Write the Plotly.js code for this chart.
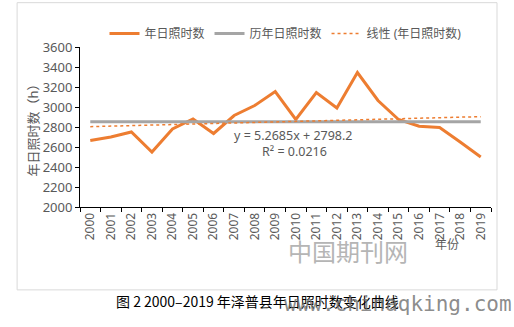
<!DOCTYPE html>
<html>
<head>
<meta charset="utf-8">
<script src="https://cdn.plot.ly/plotly-3.0.1.min.js"></script>
<style>
html,body{margin:0;padding:0;background:#fff;}
#chart{width:514px;height:327px;}
</style>
</head>
<body>
<div id="chart"></div>
<script>
// Data
const years = ['2000','2001','2002','2003','2004','2005','2006','2007','2008','2009',
               '2010','2011','2012','2013','2014','2015','2016','2017','2018','2019'];
const sunshineHours = [2665, 2700, 2750, 2550, 2780, 2880, 2735, 2915, 3015, 3155,
                       2875, 3145, 2990, 3345, 3065, 2875, 2808, 2795, 2650, 2500];
const historicalMean = [2853.5]; // 历年日照时数 (multi-year average)
const trendSlope = 5.2685;       // from the displayed equation
const trendIntercept = 2798.2;
const yTickVals = [2000, 2200, 2400, 2600, 2800, 3000, 3200, 3400, 3600];

const FONT = 'Noto Sans, Noto Sans CJK SC, sans-serif';
const TXT = '#595959';

const meanLine = years.map(() => historicalMean[0]);
const trendLine = years.map((_, i) => trendSlope * (i + 1) + trendIntercept);

const traces = [
  {x: years, y: sunshineHours, type: 'scatter', mode: 'lines', name: '年日照时数',
   line: {color: '#ED7D31', width: 3}},
  {x: years, y: meanLine, type: 'scatter', mode: 'lines', name: '历年日照时数',
   line: {color: '#A5A5A5', width: 3}},
  {x: years, y: trendLine, type: 'scatter', mode: 'lines', name: '线性 (年日照时数)',
   line: {color: '#ED7D31', width: 1.5, dash: 'dot'}}
];

const layout = {
  width: 514, height: 327,
  margin: {l: 80, r: 23, t: 46.7, b: 120.3},
  paper_bgcolor: '#fff', plot_bgcolor: '#fff',
  font: {family: FONT, color: TXT, size: 12},
  showlegend: true,
  legend: {orientation: 'h', x: 0.5, xanchor: 'center', y: 1.085, yanchor: 'middle',
           font: {family: FONT, size: 12, color: TXT}, bgcolor: 'rgba(0,0,0,0)',
           itemwidth: 30, tracegroupgap: 0},
  xaxis: {type: 'category', range: [-0.5, 19.5], showline: true, linecolor: '#000', linewidth: 1,
          ticks: 'outside', ticklen: 4, tickcolor: '#000', tickson: 'boundaries',
          tickangle: -90, tickfont: {family: FONT, size: 12, color: TXT},
          showgrid: false, zeroline: false, fixedrange: true},
  yaxis: {range: [2000, 3600], tickvals: yTickVals, showline: true, linecolor: '#000', linewidth: 1,
          ticks: 'outside', ticklen: 4, tickcolor: '#000',
          tickfont: {family: FONT, size: 13, color: TXT},
          showgrid: false, zeroline: false, fixedrange: true,
          title: {text: '年日照时数（h）', font: {family: FONT, size: 13, color: TXT}, standoff: 1}},
  shapes: [
    {type: 'rect', xref: 'paper', yref: 'paper', x0: -0.153, x1: 1.0146, y0: -0.518, y1: 1.277,
     line: {color: '#D9D9D9', width: 1}, fillcolor: 'rgba(0,0,0,0)', layer: 'below'}
  ],
  annotations: [
    {xref: 'paper', yref: 'paper', x: (293-80)/411, y: (206.7-135)/160, text: 'y = 5.2685x + 2798.2',
     showarrow: false, font: {family: FONT, size: 12.5, color: TXT}},
    {xref: 'paper', yref: 'paper', x: (294-80)/411, y: (206.7-151)/160, text: 'R² = 0.0216',
     showarrow: false, font: {family: FONT, size: 12.5, color: TXT}},
    {xref: 'paper', yref: 'paper', x: (461-80)/411, y: (206.7-255)/160, text: '年份',
     showarrow: false, font: {family: FONT, size: 12, color: TXT}},
    {xref: 'paper', yref: 'paper', x: (348-80)/411, y: (206.7-270)/160, text: '中国期刊网',
     showarrow: false, font: {family: 'Noto Sans CJK SC, serif', size: 24, color: '#B5B5B5'}},
    {xref: 'paper', yref: 'paper', x: (257-80)/411, y: (206.7-313)/160, text: '图 2 2000–2019 年泽普县年日照时数变化曲线',
     showarrow: false, font: {family: 'Noto Sans CJK SC, sans-serif', size: 14, color: '#000'}},
    {xref: 'paper', yref: 'paper', x: (514-80)/411, xanchor: 'right', y: (206.7-318)/160,
     text: 'www.chinaqking.com', showarrow: false,
     font: {family: 'DejaVu Sans Mono, monospace', size: 21, color: 'rgba(110,110,110,0.8)'}}
  ]
};

Plotly.newPlot('chart', traces, layout, {displayModeBar: false, staticPlot: true});
</script>
</body>
</html>
